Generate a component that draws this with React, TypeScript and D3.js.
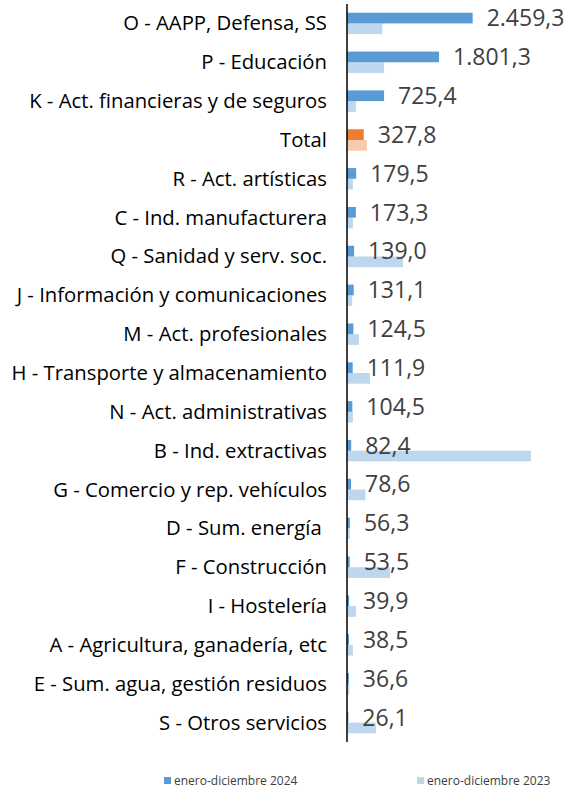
import React, { useEffect, useRef } from 'react';
import * as d3 from 'd3';

// sectores, ordenados como en el gráfico
const categories = [
  'O - AAPP, Defensa, SS',
  'P - Educación',
  'K - Act. financieras y de seguros',
  'Total',
  'R - Act. artísticas',
  'C - Ind. manufacturera',
  'Q - Sanidad y serv. soc.',
  'J - Información y comunicaciones',
  'M - Act. profesionales',
  'H - Transporte y almacenamiento',
  'N - Act. administrativas',
  'B - Ind. extractivas',
  'G - Comercio y rep. vehículos',
  'D - Sum. energía ',
  'F - Construcción',
  'I - Hostelería',
  'A - Agricultura, ganadería, etc',
  'E - Sum. agua, gestión residuos',
  'S - Otros servicios',
];

const values2024 = [
  2459.3, 1801.3, 725.4, 327.8, 179.5, 173.3, 139.0, 131.1, 124.5, 111.9,
  104.5, 82.4, 78.6, 56.3, 53.5, 39.9, 38.5, 36.6, 26.1,
];

const values2023 = [
  690, 725, 175, 390, 115, 115, 1095, 100, 235, 450,
  115, 3600, 360, 55, 840, 175, 115, 45, 565,
];

const seriesNames = ['enero-diciembre 2024', 'enero-diciembre 2023'];

const W = 569, H = 789;
const FONT = "'Open Sans', sans-serif";

const esFormat = d3.formatLocale({
  decimal: ',',
  thousands: '.',
  grouping: [3],
  currency: ['', ' €'],
}).format(',.1f');

export default function App() {
  const ref = useRef<SVGSVGElement>(null);

  useEffect(() => {
    const svg = d3.select(ref.current);
    svg.selectAll('*').remove();

    const x0 = 347;
    const x = d3.scaleLinear().domain([0, 4000]).range([x0, x0 + 204.4]);
    const y = d3.scaleBand().domain(categories).range([4, 742]).padding(0);
    const groupH = 21.4;
    const y1 = d3.scaleBand().domain(['2024', '2023']).range([0, groupH]);

    const rows = categories.map((c, i) => ({ c, v24: values2024[i], v23: values2023[i], total: c === 'Total' }));

    const g = svg.append('g');
    const top = (d) => y(d.c) + (y.bandwidth() - groupH) / 2;

    // barras 2023 (claras)
    g.selectAll('rect.b23').data(rows).enter().append('rect')
      .attr('class', 'b23')
      .attr('x', x0)
      .attr('y', (d) => top(d) + y1('2023'))
      .attr('width', (d) => x(d.v23) - x0)
      .attr('height', y1.bandwidth())
      .attr('fill', (d) => d.total ? '#F8CBAD' : '#BDD7EE');

    // barras 2024
    g.selectAll('rect.b24').data(rows).enter().append('rect')
      .attr('class', 'b24')
      .attr('x', x0)
      .attr('y', (d) => top(d) + y1('2024'))
      .attr('width', (d) => x(d.v24) - x0)
      .attr('height', y1.bandwidth())
      .attr('fill', (d) => d.total ? '#ED7D31' : '#5B9BD5');

    // etiquetas de valor
    g.selectAll('text.val').data(rows).enter().append('text')
      .attr('class', 'val')
      .attr('x', (d) => x(d.v24) + 14)
      .attr('y', (d) => top(d) + y1('2024') + y1.bandwidth() / 2 + 8.3)
      .attr('font-family', FONT)
      .attr('font-size', 23)
      .attr('fill', '#404040')
      .text((d) => esFormat(d.v24));

    // eje vertical
    g.append('line')
      .attr('x1', x0).attr('x2', x0)
      .attr('y1', 4).attr('y2', 742)
      .attr('stroke', '#000').attr('stroke-width', 1.5);

    // categorías
    g.selectAll('text.cat').data(rows).enter().append('text')
      .attr('class', 'cat')
      .attr('x', 327)
      .attr('y', (d) => y(d.c) + y.bandwidth() / 2 + 7)
      .attr('text-anchor', 'end')
      .attr('font-family', FONT)
      .attr('font-size', 20.3)
      .attr('fill', '#000')
      .style('white-space', 'pre')
      .text((d) => d.c);

    // leyenda
    const legendX = [164, 417];
    const leg = g.selectAll('g.leg').data(seriesNames).enter().append('g')
      .attr('class', 'leg')
      .attr('transform', (d, i) => `translate(${legendX[i]}, 777)`);
    leg.append('rect')
      .attr('width', 7).attr('height', 7)
      .attr('fill', (d, i) => i === 0 ? '#5B9BD5' : '#BDD7EE');
    leg.append('text')
      .attr('x', 10).attr('y', 8)
      .attr('font-family', FONT)
      .attr('font-size', 12)
      .attr('fill', '#404040')
      .text((d) => d);
  }, []);

  return (
    <div style={{ position: 'absolute', left: 0, top: 0 }}>
      <svg ref={ref} width={W} height={H} style={{ display: 'block', background: '#fff' }} />
    </div>
  );
}
